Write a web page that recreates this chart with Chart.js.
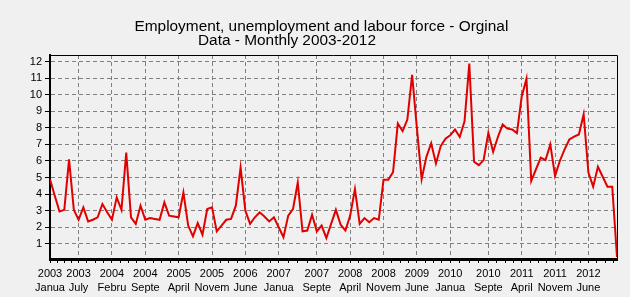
<!DOCTYPE html>
<html>
<head>
<meta charset="utf-8">
<script src="https://cdn.jsdelivr.net/npm/chart.js@4.4.0/dist/chart.umd.min.js"></script>
<style>
html,body{margin:0;padding:0;background:#f0f0f0;}
#wrap{width:630px;height:297px;position:relative;}
</style>
</head>
<body>
<div id="wrap"><canvas id="c" width="630" height="297"></canvas></div>
<script>
const titleLines = ["Employment, unemployment and labour force - Orginal", "Data - Monthly 2003-2012"];

// month index (0 = January 2003) of each labelled x tick
const tickIndex = [0, 6, 13, 20, 27, 34, 41, 48, 56, 63, 70, 77, 84, 92, 99, 106, 113];
const tickYears = ["2003","2003","2004","2004","2005","2005","2006","2007","2007","2008","2008","2009","2010","2010","2011","2011","2012"];
const tickMonths = ["Janua","July","Febru","Septe","April","Novem","June","Janua","Septe","April","Novem","June","Janua","Septe","April","Novem","June"];

const yTicks = [1,2,3,4,5,6,7,8,9,10,11,12];

// monthly values, January 2003 .. December 2012
const values2003 = [4.9, 3.9, 2.95, 3.05, 6.1, 3.05, 2.45, 3.2, 2.35, 2.45, 2.6, 3.4];
const values2004 = [2.9, 2.45, 3.8, 3.05, 6.5, 2.6, 2.2, 3.3, 2.45, 2.55, 2.5, 2.45];
const values2005 = [3.5, 2.7, 2.65, 2.6, 4.1, 2.1, 1.45, 2.25, 1.55, 3.1, 3.2, 1.75];
const values2006 = [2.1, 2.45, 2.5, 3.3, 5.6, 3.0, 2.2, 2.6, 2.9, 2.65, 2.35, 2.6];
const values2007 = [2.0, 1.4, 2.7, 3.1, 4.7, 1.75, 1.8, 2.75, 1.75, 2.1, 1.35, 2.2];
const values2008 = [3.05, 2.15, 1.8, 2.7, 4.3, 2.2, 2.55, 2.3, 2.55, 2.45, 4.87, 4.87];
const values2009 = [5.33, 8.26, 7.8, 8.5, 11.2, 8.0, 4.9, 6.25, 7.07, 5.85, 6.9, 7.35];
const values2010 = [7.55, 7.9, 7.45, 8.4, 11.88, 5.95, 5.75, 6.05, 7.7, 6.55, 7.45, 8.2];
const values2011 = [7.95, 7.9, 7.68, 9.9, 10.97, 4.8, 5.5, 6.2, 6.05, 7.0, 5.1, 6.0];
const values2012 = [6.7, 7.3, 7.47, 7.6, 8.82, 5.3, 4.45, 5.65, 5.05, 4.45, 4.45, 0.2];

const values = [].concat(values2003, values2004, values2005, values2006, values2007,
                         values2008, values2009, values2010, values2011, values2012);

// minor tick positions: quarters between labelled ticks
const minorTicks = [];
for (let k = 0; k < tickIndex.length; k++) {
  const a = tickIndex[k];
  const b = k + 1 < tickIndex.length ? tickIndex[k + 1] : a + 7;
  for (let q = 1; q < 4; q++) {
    const v = a + (b - a) * q / 4;
    if (v <= values.length - 1) minorTicks.push(v);
  }
}
const xTickValues = tickIndex.concat(minorTicks).sort((a, b) => a - b);

const tickFont = { family: "'Liberation Sans', Arial, sans-serif", size: 11, lineHeight: '14px' };

const framePlugin = {
  id: 'frame',
  afterDraw(chart) {
    const { ctx, chartArea: a } = chart;
    ctx.save();
    ctx.strokeStyle = '#000';
    ctx.lineWidth = 1;
    ctx.beginPath();
    ctx.moveTo(a.left, a.top + 0.5);
    ctx.lineTo(a.right + 0.5, a.top + 0.5);
    ctx.lineTo(a.right + 0.5, a.bottom);
    ctx.stroke();
    ctx.fillStyle = '#000';
    ctx.font = "15.4px 'Liberation Sans', Arial, sans-serif";
    ctx.textBaseline = 'alphabetic';
    ctx.textAlign = 'left';
    ctx.fillText(titleLines[0], 134.5, 31);
    ctx.fillText(titleLines[1], 198, 44.5);
    ctx.restore();
  }
};

new Chart(document.getElementById('c'), {
  type: 'line',
  data: {
    datasets: [{
      data: values.map((v, i) => ({ x: i, y: v })),
      borderColor: '#e00000',
      borderWidth: 2,
      pointRadius: 0,
      tension: 0,
      fill: false
    }]
  },
  options: {
    responsive: false,
    animation: false,
    devicePixelRatio: 1,
    layout: { padding: { top: 55, right: 13, left: 0, bottom: 0 } },
    plugins: { legend: { display: false }, title: { display: false }, tooltip: { enabled: false } },
    scales: {
      x: {
        type: 'linear',
        bounds: 'data',
        min: 0,
        max: values.length - 1,
        afterBuildTicks: (s) => { s.ticks = xTickValues.map(v => ({ value: v })); },
        afterFit: (s) => { s.height = 38; },
        ticks: {
          autoSkip: false,
          maxRotation: 0,
          minRotation: 0,
          padding: 4,
          color: '#000',
          font: tickFont,
          callback: (v) => {
            const k = tickIndex.indexOf(v);
            return k >= 0 ? [tickYears[k], tickMonths[k]] : '';
          }
        },
        grid: {
          color: (ctx) => (ctx.tick && tickIndex.indexOf(ctx.tick.value) > 0) ? '#808080' : 'rgba(0,0,0,0)',
          tickColor: '#000',
          tickLength: 4,
          lineWidth: 1
        },
        border: { display: true, color: '#000', width: 3, dash: [4, 3] }
      },
      y: {
        type: 'linear',
        bounds: 'data',
        min: 0.08,
        max: 12.4,
        afterBuildTicks: (s) => { s.ticks = yTicks.map(v => ({ value: v })); },
        afterFit: (s) => { s.width = 50; },
        ticks: { padding: 3, color: '#000', font: tickFont },
        grid: { color: '#808080', tickColor: '#000', tickLength: 5, lineWidth: 1 },
        border: { display: true, color: '#000', width: 2, dash: [4, 3] }
      }
    }
  },
  plugins: [framePlugin]
});
</script>
</body>
</html>
